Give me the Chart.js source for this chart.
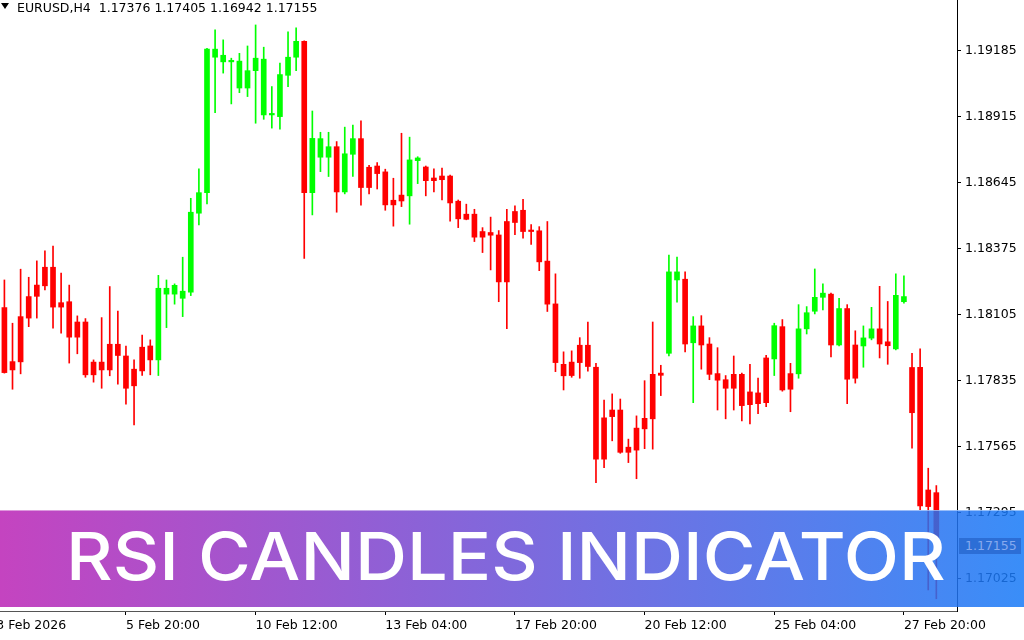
<!DOCTYPE html>
<html>
<head>
<meta charset="utf-8">
<title>EURUSD,H4 - RSI Candles Indicator</title>
<script src="https://cdn.jsdelivr.net/npm/chart.js@4.4.1/dist/chart.umd.min.js"></script>
<style>
  body { margin: 0; background: #fff; }
  #wrap { position: relative; width: 1024px; height: 640px; overflow: hidden; }
  #chart { position: absolute; left: 0; top: 0; }
  #tri { position: absolute; left: 1px; top: 3px; width: 0; height: 0;
    border-left: 4.5px solid transparent; border-right: 4.5px solid transparent; border-top: 6px solid #000; }
  #hdr { position: absolute; left: 17px; top: 0; font: 12.5px "DejaVu Sans"; color: #000; white-space: pre; }
  #banner { position: absolute; left: 0; top: 510px; width: 1024px; height: 97px;
    background: linear-gradient(90deg, rgba(186,35,181,0.85), rgba(23,122,247,0.85));
    box-shadow: inset 0 1px 0 rgba(255,255,255,0.45); }
  #bannerText { position: absolute; left: 66px; top: 0; font: 500 66px Inter; color: #fff;
    white-space: nowrap; line-height: 1; transform-origin: 0 0; }
  #tag { position: absolute; left: 959px; width: 62px; height: 16px; background: #2c6ed6; color: #86aaee;
    font: 12.5px "DejaVu Sans"; line-height: 16px; padding-left: 6px; box-sizing: border-box; }
</style>
</head>
<body>
<div id="wrap">
  <canvas id="chart" width="1024" height="640"></canvas>
  <div id="tri"></div>
  <div id="hdr"></div>
  <div id="banner"><span id="bannerText">RSI CANDLES INDICATOR</span></div>
  <div id="tag"></div>
</div>
<script>
const symbol = 'EURUSD,H4';

// time axis: bar index of each label (index -1 is just off the left edge)
const tickIdx = [-1, 15, 31, 47, 63, 79, 95, 111];
const tickLabels = ['3 Feb 2026', '5 Feb 20:00', '10 Feb 12:00', '13 Feb 04:00',
  '17 Feb 20:00', '20 Feb 12:00', '25 Feb 04:00', '27 Feb 20:00'];

const yTicks = [1.17025, 1.17295, 1.17565, 1.17835, 1.18105, 1.18375, 1.18645, 1.18915, 1.19185];

const open = [
  1.18133,1.17878,1.17911,1.18090,1.18179,1.18222,1.18298,1.18135,1.18157,1.18012,
  1.18074,1.17858,1.17910,1.17878,1.17983,1.17935,1.17813,1.17874,1.17976,1.17919,
  1.18212,1.18188,1.18200,1.18196,1.18519,1.18603,1.19190,1.19165,1.19138,1.19141,
  1.19031,1.19102,1.19149,1.18921,1.18914,1.19083,1.19157,1.19222,1.18603,1.18824,
  1.18748,1.18791,1.18606,1.18760,1.18824,1.18624,1.18712,1.18688,1.18553,1.18569,
  1.18590,1.18734,1.18708,1.18652,1.18671,1.18671,1.18568,1.18494,1.18515,1.18421,
  1.18440,1.18430,1.18238,1.18481,1.18531,1.18444,1.18447,1.18323,1.18148,1.17901,
  1.17855,1.17908,1.17979,1.17889,1.17513,1.17687,1.17714,1.17541,1.17550,1.17637,
  1.17678,1.17856,1.17946,1.18279,1.18249,1.17989,1.18058,1.17984,1.17863,1.17838,
  1.17803,1.17860,1.17736,1.17784,1.17744,1.17923,1.18055,1.17799,1.17862,1.18046,
  1.18118,1.18175,1.18188,1.17980,1.18129,1.17844,1.17976,1.18008,1.18046,1.17993,
  1.17964,1.18178,1.17703,1.17889,1.17319,1.17376
];
const high = [
  1.18246,1.18069,1.18290,1.18257,1.18324,1.18365,1.18385,1.18274,1.18225,1.18099,
  1.18088,1.17919,1.18092,1.18219,1.18119,1.17976,1.17919,1.18021,1.18001,1.18265,
  1.18246,1.18230,1.18339,1.18580,1.18700,1.19193,1.19269,1.19228,1.19153,1.19173,
  1.19203,1.19289,1.19198,1.19037,1.19133,1.19261,1.19277,1.19224,1.18937,1.18850,
  1.18850,1.18812,1.18871,1.18879,1.18897,1.18715,1.18726,1.18699,1.18662,1.18846,
  1.18830,1.18750,1.18712,1.18700,1.18704,1.18675,1.18573,1.18556,1.18535,1.18460,
  1.18503,1.18448,1.18535,1.18549,1.18576,1.18472,1.18464,1.18485,1.18271,1.17952,
  1.17956,1.18010,1.18074,1.17905,1.17755,1.17780,1.17759,1.17595,1.17690,1.17834,
  1.18074,1.17897,1.18348,1.18340,1.18279,1.18096,1.18100,1.18010,1.17969,1.17855,
  1.17935,1.17865,1.17901,1.17845,1.17938,1.18069,1.18084,1.17905,1.18145,1.18137,
  1.18291,1.18230,1.18192,1.18171,1.18145,1.18038,1.18058,1.18134,1.18220,1.18158,
  1.18271,1.18263,1.17946,1.17964,1.17476,1.17405
];
const low = [
  1.17865,1.17799,1.17862,1.18055,1.18090,1.18205,1.18049,1.18028,1.17906,1.17944,
  1.17848,1.17828,1.17803,1.17854,1.17820,1.17738,1.17653,1.17856,1.17858,1.17855,
  1.18051,1.18147,1.18096,1.18182,1.18471,1.18557,1.18930,1.19092,1.18966,1.19012,
  1.18996,1.18887,1.18903,1.18867,1.18863,1.19037,1.19102,1.18334,1.18512,1.18689,
  1.18669,1.18523,1.18598,1.18669,1.18552,1.18598,1.18618,1.18531,1.18466,1.18546,
  1.18474,1.18640,1.18590,1.18606,1.18573,1.18486,1.18460,1.18492,1.18403,1.18358,
  1.18287,1.18157,1.18047,1.18431,1.18417,1.18391,1.18284,1.18117,1.17871,1.17796,
  1.17848,1.17844,1.17873,1.17417,1.17478,1.17588,1.17537,1.17499,1.17433,1.17556,
  1.17554,1.17773,1.17935,1.18155,1.17952,1.17744,1.17881,1.17838,1.17714,1.17678,
  1.17714,1.17669,1.17657,1.17699,1.17728,1.17855,1.17791,1.17707,1.17844,1.18025,
  1.18107,1.18123,1.17931,1.17976,1.17740,1.17824,1.17889,1.18001,1.17927,1.17901,
  1.17960,1.18151,1.17558,1.17306,1.16978,1.16942
];
const close = [
  1.17867,1.17912,1.18096,1.18178,1.18225,1.18298,1.18135,1.18153,1.18012,1.18074,
  1.17858,1.17910,1.17878,1.17983,1.17937,1.17803,1.17881,1.17971,1.17919,1.18212,
  1.18188,1.18224,1.18171,1.18523,1.18603,1.19190,1.19157,1.19138,1.19143,1.19031,
  1.19102,1.19153,1.18921,1.18925,1.19086,1.19157,1.19222,1.18603,1.18825,1.18748,
  1.18791,1.18606,1.18762,1.18824,1.18624,1.18707,1.18681,1.18553,1.18572,1.18593,
  1.18737,1.18745,1.18652,1.18663,1.18656,1.18561,1.18496,1.18515,1.18421,1.18444,
  1.18429,1.18238,1.18485,1.18526,1.18444,1.18447,1.18320,1.18147,1.17908,1.17854,
  1.17910,1.17979,1.17892,1.17513,1.17682,1.17714,1.17541,1.17562,1.17640,1.17680,
  1.17860,1.17865,1.18279,1.18246,1.17984,1.18058,1.17980,1.17860,1.17836,1.17803,
  1.17860,1.17732,1.17788,1.17740,1.17927,1.18059,1.17796,1.17863,1.18046,1.18112,
  1.18175,1.18192,1.17980,1.18129,1.17840,1.17980,1.18009,1.18046,1.17984,1.17977,
  1.18183,1.18157,1.17888,1.17322,1.17387,1.17155
];
// candle colour given by the RSI indicator (G = green, R = red)
const rsiColor = [
  'R','R','R','R','R','R','R','R','R','R',
  'R','R','R','R','R','R','R','R','R','G',
  'G','G','G','G','G','G','G','G','G','G',
  'G','G','G','G','G','G','G','R','G','G',
  'G','R','G','G','R','R','R','R','R','R',
  'G','G','R','R','R','R','R','R','R','R',
  'R','R','R','R','R','R','R','R','R','R',
  'R','R','R','R','R','R','R','R','R','R',
  'R','R','G','G','R','G','R','R','R','R',
  'R','R','R','R','R','G','R','R','G','G',
  'G','G','R','G','R','R','G','G','R','R',
  'G','G','R','R','R','R'
];

const colors = rsiColor.map(c => c === 'G' ? '#00ff00' : '#ff0000');
const last = close.length - 1;

document.getElementById('hdr').textContent = symbol + '  ' +
  [open[last], high[last], low[last], close[last]].map(v => v.toFixed(5)).join(' ');

const axisFont = { family: 'DejaVu Sans', size: 12.5 };

const chart = new Chart(document.getElementById('chart'), {
  type: 'bar',
  data: {
    datasets: [
      {
        // bodies
        data: close.map((c, i) => ({ x: i, y: [open[i], c] })),
        backgroundColor: colors,
        barThickness: 5,
        minBarLength: 1.5,
        grouped: false
      },
      {
        // wicks
        data: low.map((l, i) => ({ x: i, y: [l, high[i]] })),
        backgroundColor: colors,
        barThickness: 1,
        grouped: false
      }
    ]
  },
  options: {
    responsive: false,
    devicePixelRatio: 1,
    animation: false,
    layout: { padding: 0 },
    plugins: { legend: { display: false }, tooltip: { enabled: false } },
    scales: {
      x: {
        type: 'linear',
        offset: false,
        min: -0.543,
        max: 117.55,
        afterBuildTicks: s => { s.ticks = tickIdx.map(v => ({ value: v })); },
        afterFit: s => { s.height = 29; s.paddingLeft = 0; s.paddingRight = 0; },
        grid: { offset: false, drawOnChartArea: false, drawTicks: true, tickLength: 4, color: '#000' },
        border: { color: '#555' },
        ticks: {
          autoSkip: false, maxRotation: 0, align: 'start', padding: 3,
          color: '#000', font: axisFont,
          callback: v => tickLabels[tickIdx.indexOf(v)]
        }
      },
      y: {
        type: 'linear',
        position: 'right',
        min: 1.16892,
        max: 1.19391,
        afterBuildTicks: s => { s.ticks = yTicks.map(v => ({ value: v })); },
        afterFit: s => { s.width = 67; s.paddingTop = 0; s.paddingBottom = 0; },
        grid: { drawOnChartArea: false, drawTicks: true, tickLength: 4, color: '#000' },
        border: { color: '#000' },
        ticks: { padding: 4, color: '#000', font: axisFont, callback: v => v.toFixed(5) }
      }
    }
  }
});

// bid price label on the price scale
const tag = document.getElementById('tag');
tag.textContent = close[last].toFixed(5);
tag.style.top = (chart.scales.y.getPixelForValue(close[last]) - 9) + 'px';

// banner title: put baseline at y=580 and stretch to the reference width
const bt = document.getElementById('bannerText');
const probe = document.createElement('i');
probe.style.cssText = 'display:inline-block;width:0;height:0;';
bt.appendChild(probe);
bt.style.top = (70 - probe.offsetTop) + 'px';
bt.style.transform = 'scaleX(' + (880 / bt.offsetWidth) + ')';
</script>
</body>
</html>
